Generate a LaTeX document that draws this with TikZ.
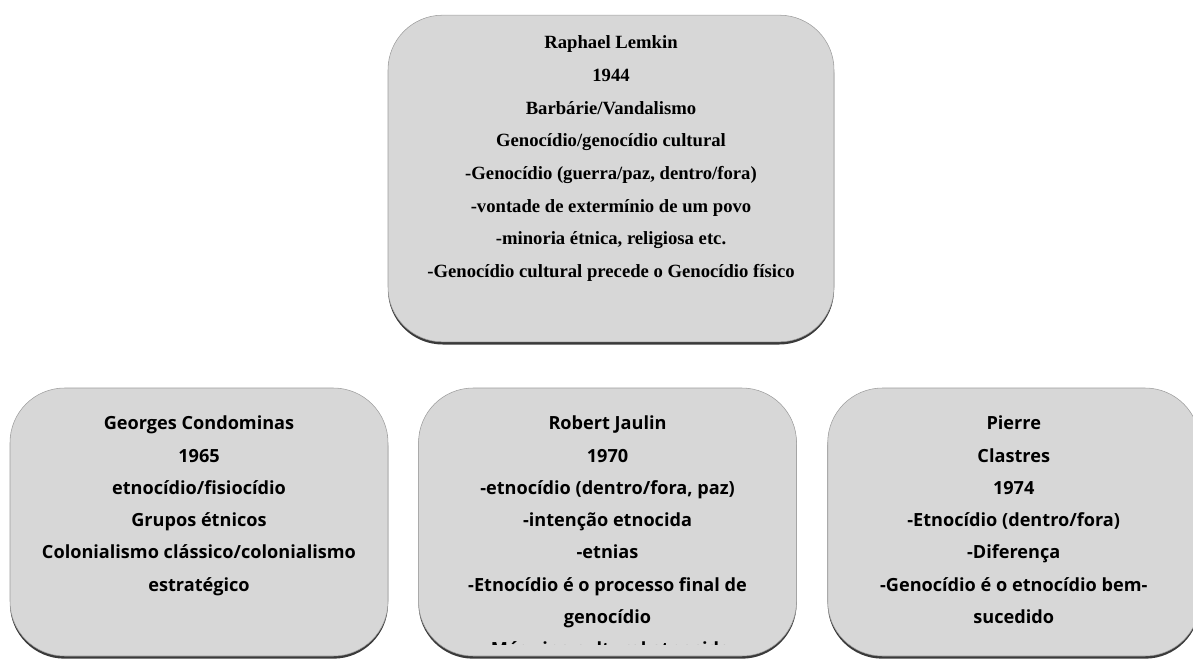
\documentclass[tikz,border=0pt]{standalone}
\usepackage{fontspec}
\setmainfont{Liberation Serif}
\newfontfamily\cardfont{Open Sans}
\usetikzlibrary{positioning,shadows}
\definecolor{cardgray}{HTML}{D7D7D7}
\definecolor{cardline}{HTML}{9C9C9C}
\definecolor{cardshadow}{HTML}{3A3A3A}
\tikzset{card/.style={rectangle, rounded corners=41pt, fill=cardgray,
    draw=cardline, line width=.4pt,
    drop shadow={shadow xshift=0pt, shadow yshift=-2pt, fill=cardshadow, opacity=1}}}
\tikzset{toptext/.style={align=center, inner sep=0pt,
    font=\bfseries\fontsize{14}{24.5}\selectfont}}
\tikzset{lowtext/.style={align=center, inner sep=0pt,
    font=\cardfont\bfseries\fontsize{13.6}{24.2}\selectfont}}

\begin{document}
\begin{tikzpicture}[x=.75pt,y=-.75pt]
  \clip (0,0) rectangle (1193,660);

  \node[card, minimum width=334.5pt, minimum height=245pt] (lemkin) at (611,178.5) {};
  \node[card, minimum width=283.5pt, minimum height=201pt] (condominas) at (199,522) {};
  \node[card, minimum width=283.5pt, minimum height=201pt, right=22.5pt of condominas] (jaulin) {};
  \node[card, minimum width=279pt, minimum height=201pt, right=23pt of jaulin] (clastres) {};

  \node[toptext, below=15.5pt of lemkin.north] (lemkintxt) {Raphael Lemkin\\1944\\Barbárie/Vandalismo\\
    Genocídio/genocídio cultural\\-Genocídio (guerra/paz, dentro/fora)\\
    -vontade de extermínio de um povo\\-minoria étnica, religiosa etc.\\
    -Genocídio cultural precede o Genocídio físico};

  \node[lowtext, below=21pt of condominas.north] (condominastxt) {Georges Condominas\\1965\\
    etnocídio/fisiocídio\\Grupos étnicos\\Colonialismo clássico/colonialismo\\estratégico};

  % text runs past the box, cut off
  \begin{scope}
    \clip (jaulin.north west) rectangle ([yshift=8.5pt]jaulin.south east);
    \node[lowtext, below=21pt of jaulin.north] (jaulintxt) {Robert Jaulin\\1970\\
      -etnocídio (dentro/fora, paz)\\-intenção etnocida\\-etnias\\
      -Etnocídio é o processo final de\\genocídio\\-Máquina cultural etnocida};
  \end{scope}

  \node[lowtext, below=21pt of clastres.north] (clastrestxt) {Pierre\\Clastres\\1974\\
    -Etnocídio (dentro/fora)\\-Diferença\\-Genocídio é o etnocídio bem-\\sucedido};

\end{tikzpicture}
\end{document}
